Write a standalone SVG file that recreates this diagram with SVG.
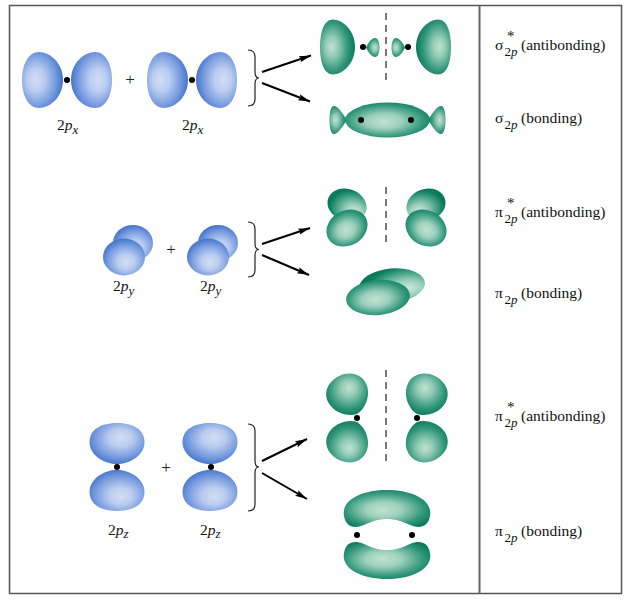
<svg xmlns="http://www.w3.org/2000/svg" xmlns:xlink="http://www.w3.org/1999/xlink" width="628" height="600" viewBox="0 0 628 600">
<style>
text{font-family:'Liberation Serif','DejaVu Serif',serif;fill:#111}
.lbl{font-size:15.5px}
.sub{font-size:13px}
.ast{font-size:15px}
.it{font-style:italic}
.plus{font-size:17px;fill:#222}
.dash{stroke:#333;stroke-width:1.3;stroke-dasharray:7 5;fill:none}
.arr{stroke:#000;stroke-width:2;fill:none;marker-end:url(#ah)}
.brace{stroke:#222;stroke-width:1.2;fill:none}
.dot{fill:#000}
.b{fill:url(#gb)}
.bc{fill:url(#gbc)}
.g{fill:url(#gg)}
.gc{fill:url(#ggc)}
.gr{fill:url(#ggr)}
</style>
<defs>
<radialGradient id="gb" cx="0.62" cy="0.5" r="0.62" fx="0.68" fy="0.5">
<stop offset="0" stop-color="#d3def4"/><stop offset="0.35" stop-color="#b9cbef"/><stop offset="0.75" stop-color="#7399de"/><stop offset="1" stop-color="#4674cb"/>
</radialGradient>
<radialGradient id="gbc" cx="0.55" cy="0.6" r="0.6" fx="0.55" fy="0.65">
<stop offset="0" stop-color="#d3def4"/><stop offset="0.35" stop-color="#b9cbef"/><stop offset="0.75" stop-color="#7399de"/><stop offset="1" stop-color="#4674cb"/>
</radialGradient>
<radialGradient id="gbz" cx="0.55" cy="0.4" r="0.62" fx="0.58" fy="0.35">
<stop offset="0" stop-color="#d3def4"/><stop offset="0.35" stop-color="#b9cbef"/><stop offset="0.75" stop-color="#7399de"/><stop offset="1" stop-color="#4674cb"/>
</radialGradient>
<radialGradient id="gg" cx="0.62" cy="0.5" r="0.62" fx="0.68" fy="0.5">
<stop offset="0" stop-color="#c0e1d5"/><stop offset="0.3" stop-color="#92cbb6"/><stop offset="0.7" stop-color="#32977a"/><stop offset="1" stop-color="#0a7a58"/>
</radialGradient>
<radialGradient id="ggc" cx="0.48" cy="0.52" r="0.6" fx="0.45" fy="0.55">
<stop offset="0" stop-color="#c0e1d5"/><stop offset="0.35" stop-color="#9dd0bd"/><stop offset="0.75" stop-color="#32977a"/><stop offset="1" stop-color="#0a7a58"/>
</radialGradient>
<radialGradient id="ggr" cx="0.7" cy="0.6" r="0.62" fx="0.75" fy="0.62">
<stop offset="0" stop-color="#cfe8df"/><stop offset="0.35" stop-color="#9dd0bd"/><stop offset="0.8" stop-color="#32977a"/><stop offset="1" stop-color="#0a7a58"/>
</radialGradient>
<radialGradient id="ggu" cx="0.55" cy="0.4" r="0.62" fx="0.6" fy="0.35">
<stop offset="0" stop-color="#c0e1d5"/><stop offset="0.3" stop-color="#92cbb6"/><stop offset="0.72" stop-color="#32977a"/><stop offset="1" stop-color="#0a7a58"/>
</radialGradient>
<path id="pxlobe" d="M0,0 C0,-17 13,-28 24,-28 C35,-28 41,-15 41,0 C41,15 35,28 24,28 C13,28 0,17 0,0 Z"/>
<path id="pzlobe" d="M0,0 C-12,0 -27.5,-8 -27.5,-22 C-27.5,-35 -15,-41 0,-41 C15,-41 27.5,-35 27.5,-22 C27.5,-8 12,0 0,0 Z"/>
<path id="bigl" d="M0,0 C0,-16 12,-27.5 22,-27.5 C31,-27.5 35,-15 35,0 C35,15 31,27.5 22,27.5 C12,27.5 0,16 0,0 Z"/>
<path id="sml" d="M0,0 C3,-6 6,-9.5 9,-9.5 C12,-9.5 13.5,-5 13.5,0 C13.5,5 12,9.5 9,9.5 C6,9.5 3,6 0,0 Z"/>
<path id="side" d="M0,0 C4,-6 9,-14 13,-14 C16,-14 17.5,-8 17.5,0 C17.5,8 16,14 13,14 C9,14 4,6 0,0 Z"/>
<path id="egg" d="M0,0 C-9,-1 -20,-10 -21,-22 C-22,-34 -12,-42 0,-42 C12,-42 22,-34 21,-22 C20,-10 9,-1 0,0 Z"/>
<path id="banana" d="M344,516 C341,500 362,490 387,490 C412,490 433,500 430,516 C428,527 420,529 410,525 C401,521 395,519 387,519 C379,519 373,521 364,525 C354,529 346,527 344,516 Z"/>
<marker id="ah" markerUnits="userSpaceOnUse" markerWidth="13" markerHeight="8" refX="12" refY="4" orient="auto">
<path d="M0,0.8 L12,4 L0,7.2 L2,4 Z" fill="#000"/>
</marker>
</defs>

<rect x="9.5" y="5.5" width="612" height="588" fill="#fff" stroke="#555" stroke-width="1.5"/>
<line x1="479.5" y1="5.5" x2="479.5" y2="593.5" stroke="#666" stroke-width="2"/>

<!-- Row 1: 2px -->
<g id="px1">
<use href="#pxlobe" class="b" transform="translate(63,80) scale(-1,1)"/>
<use href="#pxlobe" class="b" transform="translate(71,80)"/>
<circle class="dot" cx="67" cy="80" r="3"/>
<text class="lbl" x="57" y="130">2<tspan class="it">p</tspan><tspan class="sub it" dy="4">x</tspan></text>
</g>
<text class="plus" x="130" y="85" text-anchor="middle">+</text>
<g id="px2">
<use href="#pxlobe" class="b" transform="translate(188,80) scale(-1,1)"/>
<use href="#pxlobe" class="b" transform="translate(196,80)"/>
<circle class="dot" cx="192" cy="80" r="3"/>
<text class="lbl" x="182" y="130">2<tspan class="it">p</tspan><tspan class="sub it" dy="4">x</tspan></text>
</g>

<!-- Row 2: 2py -->
<g id="py1">
<ellipse class="bc" cx="133" cy="243" rx="20" ry="18"/>
<ellipse class="bc" cx="124" cy="257" rx="21" ry="18.5"/>
<text class="lbl" x="113" y="291">2<tspan class="it">p</tspan><tspan class="sub it" dy="4">y</tspan></text>
</g>
<text class="plus" x="171" y="255" text-anchor="middle">+</text>
<g id="py2">
<ellipse class="bc" cx="218" cy="243" rx="20" ry="18"/>
<ellipse class="bc" cx="208" cy="257" rx="21" ry="18.5"/>
<text class="lbl" x="200" y="291">2<tspan class="it">p</tspan><tspan class="sub it" dy="4">y</tspan></text>
</g>

<!-- Row 3: 2pz -->
<g id="pz1">
<use href="#pzlobe" fill="url(#gbz)" transform="translate(117,464)"/>
<use href="#pzlobe" fill="url(#gbz)" transform="translate(117,470) scale(1,-1)"/>
<circle class="dot" cx="117" cy="467" r="3"/>
<text class="lbl" x="108" y="535">2<tspan class="it">p</tspan><tspan class="sub it" dy="3">z</tspan></text>
</g>
<text class="plus" x="166" y="473" text-anchor="middle">+</text>
<g id="pz2">
<use href="#pzlobe" fill="url(#gbz)" transform="translate(210,464)"/>
<use href="#pzlobe" fill="url(#gbz)" transform="translate(210,470) scale(1,-1)"/>
<circle class="dot" cx="211" cy="467" r="3"/>
<text class="lbl" x="200" y="535">2<tspan class="it">p</tspan><tspan class="sub it" dy="3">z</tspan></text>
</g>

<!-- connectors -->
<g id="connectors">
<path class="brace" d="M248,50 C253,50 255,52 255,57 L255,72 C255,76 256,78 259,78 C256,78 255,80 255,84 L255,99 C255,104 253,106 248,106"/>
<path class="brace" d="M248,222 C253,222 255,224 255,229 L255,243.5 C255,247.5 256,249.5 259,249.5 C256,249.5 255,251.5 255,255.5 L255,270 C255,275 253,277 248,277"/>
<path class="brace" d="M248,424 C253,424 255,426 255,431 L255,461 C255,465 256,467 259,467 C256,467 255,469 255,473 L255,504 C255,509 253,511 248,511"/>
<line class="arr" x1="262" y1="72" x2="311" y2="55.5"/>
<line class="arr" x1="262" y1="83" x2="310" y2="101.5"/>
<line class="arr" x1="262" y1="244" x2="310" y2="228"/>
<line class="arr" x1="262" y1="255" x2="309" y2="275"/>
<line class="arr" x1="262" y1="461" x2="307" y2="439"/>
<line class="arr" x1="262" y1="473" x2="307" y2="499"/>
</g>

<!-- sigma* 2p -->
<g id="sigma-star">
<use href="#bigl" class="g" transform="translate(355,47) scale(-1,1)"/>
<use href="#bigl" class="g" transform="translate(416,47)"/>
<use href="#sml" class="g" transform="translate(366,47.5)"/>
<use href="#sml" class="g" transform="translate(405,47.5) scale(-1,1)"/>
<circle class="dot" cx="363" cy="47" r="3"/>
<circle class="dot" cx="408" cy="47" r="3"/>
<line class="dash" x1="386" y1="13" x2="386" y2="83"/>
</g>
<!-- sigma 2p -->
<g id="sigma">
<use href="#side" class="g" transform="translate(347,120) scale(-1,1)"/>
<use href="#side" class="g" transform="translate(428,120)"/>
<ellipse class="gc" cx="387.5" cy="120" rx="42.5" ry="17.5"/>
<circle class="dot" cx="361" cy="120" r="3"/>
<circle class="dot" cx="411" cy="120" r="3"/>
</g>

<!-- pi* 2p (y) -->
<g id="pi-star-y">
<ellipse class="gr" cx="347" cy="205" rx="20" ry="16" transform="rotate(20 347 205)"/>
<ellipse class="gc" cx="347" cy="228" rx="21.5" ry="17.5" transform="rotate(-30 347 228)"/>
<g transform="translate(773,0) scale(-1,1)">
<ellipse class="gr" cx="347" cy="205" rx="20" ry="16" transform="rotate(20 347 205)"/>
<ellipse class="gc" cx="347" cy="228" rx="21.5" ry="17.5" transform="rotate(-30 347 228)"/>
</g>
<line class="dash" x1="386" y1="187" x2="386" y2="245"/>
</g>
<!-- pi 2p (y) -->
<g id="pi-y">
<ellipse class="gr" cx="392" cy="285.5" rx="33" ry="17" transform="rotate(-5 392 285.5)"/>
<ellipse class="gc" cx="378" cy="297.5" rx="32" ry="17.5" transform="rotate(-5 378 297.5)"/>
</g>

<!-- pi* 2p (z) -->
<g id="pi-star-z">
<use href="#egg" fill="url(#ggu)" transform="translate(357,414) rotate(-25)"/>
<use href="#egg" fill="url(#ggu)" transform="translate(357,422) scale(1,-1) rotate(-25)"/>
<use href="#egg" fill="url(#ggu)" transform="translate(417,414) scale(-1,1) rotate(-25)"/>
<use href="#egg" fill="url(#ggu)" transform="translate(417,422) scale(-1,-1) rotate(-25)"/>
<circle class="dot" cx="357" cy="418" r="3"/>
<circle class="dot" cx="417" cy="418" r="3"/>
<line class="dash" x1="386" y1="370" x2="386" y2="463"/>
</g>
<!-- pi 2p (z) -->
<g id="pi-z">
<use href="#banana" class="gc"/>
<use href="#banana" class="gc" transform="translate(0,1069) scale(1,-1)"/>
<circle class="dot" cx="357" cy="535" r="3"/>
<circle class="dot" cx="412" cy="535" r="3"/>
</g>

<!-- labels -->
<g id="labels">
<text class="lbl" x="495" y="50">σ<tspan class="sub" x="504.5" y="56">2<tspan class="it">p</tspan></tspan><tspan x="521" y="50">(antibonding)</tspan></text>
<text class="ast" x="507" y="41">*</text>
<text class="lbl" x="495" y="123">σ<tspan class="sub" x="504.5" y="129">2<tspan class="it">p</tspan></tspan><tspan x="521" y="123">(bonding)</tspan></text>
<text class="lbl" x="495" y="217">π<tspan class="sub" x="504.5" y="223">2<tspan class="it">p</tspan></tspan><tspan x="521" y="217">(antibonding)</tspan></text>
<text class="ast" x="507" y="208">*</text>
<text class="lbl" x="495" y="298">π<tspan class="sub" x="504.5" y="304">2<tspan class="it">p</tspan></tspan><tspan x="521" y="298">(bonding)</tspan></text>
<text class="lbl" x="495" y="421">π<tspan class="sub" x="504.5" y="427">2<tspan class="it">p</tspan></tspan><tspan x="521" y="421">(antibonding)</tspan></text>
<text class="ast" x="507" y="412">*</text>
<text class="lbl" x="495" y="536">π<tspan class="sub" x="504.5" y="542">2<tspan class="it">p</tspan></tspan><tspan x="521" y="536">(bonding)</tspan></text>
</g>
</svg>
